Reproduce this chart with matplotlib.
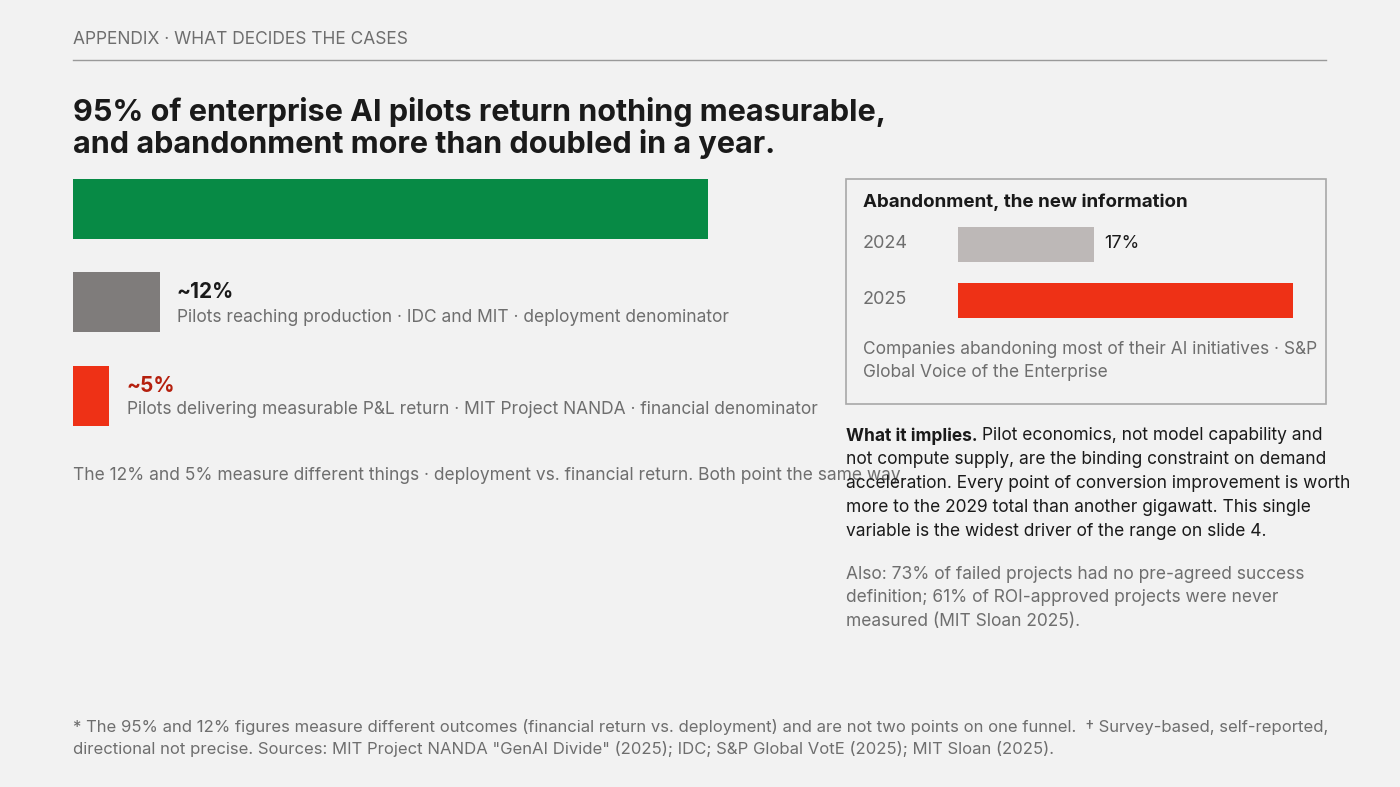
import matplotlib
matplotlib.use("Agg")
import matplotlib.pyplot as plt
from matplotlib.patches import Rectangle

BG = "#F2F2F2"
GREEN = "#078A45"
GREY = "#7F7C7B"
RED = "#EE3116"
LIGHT = "#BDB8B7"
INK = "#1A1A1A"
MUTED = "#6E6E6E"

# funnel data
funnel_values = [88, 12, 5]
funnel_labels = ["88%", "~12%", "~5%"]
funnel_notes = ["Organizations using AI in at least one function",
                "Pilots reaching production · IDC and MIT · deployment denominator",
                "Pilots delivering measurable P&L return · MIT Project NANDA · financial denominator"]
funnel_colors = [GREEN, GREY, RED]

# abandonment data
years = ["2024", "2025"]
abandon = [17, 42]
abandon_colors = [LIGHT, RED]

W, H = 1400, 787
fig = plt.figure(figsize=(14, 7.87), dpi=100, facecolor=BG)
plt.rcParams["font.family"] = ["Inter", "DejaVu Sans"]

# full-page axes in pixel coords for text
ax = fig.add_axes([0, 0, 1, 1])
ax.set_xlim(0, W)
ax.set_ylim(H, 0)
ax.axis("off")

def px_axes(x0, y0, x1, y1):
    return fig.add_axes([x0 / W, 1 - y1 / H, (x1 - x0) / W, (y1 - y0) / H])

ax.text(73, 40, "APPENDIX · WHAT DECIDES THE CASES", fontsize=12.5, color=MUTED,
        va="center")
ax.plot([73, 1326], [60, 60], color="#9A9A9A", lw=1)
ax.text(73, 128, "95% of enterprise AI pilots return nothing measurable,\nand abandonment more than doubled in a year.",
        fontsize=22, fontweight="bold", color=INK, va="center", linespacing=1.05)

# left funnel bars: 100% spans 721.6 px
fax = px_axes(73, 170, 73 + 721.6, 430)
fax.set_xlim(0, 100)
fax.set_ylim(430, 170)
fax.axis("off")
ys = [209, 302, 396]
fax.barh(ys, funnel_values, height=60, color=funnel_colors, left=0)

ax.text(90, 209, funnel_labels[0], fontsize=15, fontweight="bold", color="white", va="center")
ax.text(167, 210, funnel_notes[0], fontsize=12.5, color="white", va="center")
ax.text(177, 292, funnel_labels[1], fontsize=15, fontweight="bold", color=INK, va="center")
ax.text(177, 317, funnel_notes[1], fontsize=12.5, color=MUTED, va="center")
ax.text(127, 386, funnel_labels[2], fontsize=15, fontweight="bold", color="#B5200E", va="center")
ax.text(127, 410, funnel_notes[2], fontsize=12.5, color=MUTED, va="center")
ax.text(73, 475, "The 12% and 5% measure different things · deployment vs. financial return. Both point the same way.",
        fontsize=12.5, color=MUTED, va="center")

# right panel
ax.add_patch(Rectangle((846, 179), 480, 225, fill=False, ec="#A8A8A8", lw=1.2))
ax.text(863, 202, "Abandonment, the new information", fontsize=13.5, fontweight="bold",
        color=INK, va="center")
rax = px_axes(958, 220, 958 + 797.6, 325)
rax.set_xlim(0, 100)
rax.set_ylim(325, 220)
rax.axis("off")
rys = [244, 300]
rax.barh(rys, abandon, height=35, color=abandon_colors)
for yr, y in zip(years, rys):
    ax.text(863, y, yr, fontsize=13, color=MUTED, va="center")
ax.text(958 + abandon[0] * 7.976 + 11, 244, f"{abandon[0]}%", fontsize=13, color=INK, va="center")
ax.text(958 + abandon[1] * 7.976 - 10, 300, f"{abandon[1]}%", fontsize=13, fontweight="bold",
        color="white", va="center", ha="right")
ax.text(863, 361, "Companies abandoning most of their AI initiatives · S&P\nGlobal Voice of the Enterprise",
        fontsize=12.5, color=MUTED, va="center", linespacing=1.45)

implies = ("Pilot economics, not model capability and\nnot compute supply, are the binding constraint on demand\n"
           "acceleration. Every point of conversion improvement is worth\nmore to the 2029 total than another gigawatt. This single\n"
           "variable is the widest driver of the range on slide 4.")
lines = implies.split("\n")
ax.text(846, 436, "What it implies.", fontsize=12.5, fontweight="bold", color=INK, va="center")
ax.text(982, 436, lines[0], fontsize=12.5, color=INK, va="center")
for i, ln in enumerate(lines[1:]):
    ax.text(846, 460 + 24 * i, ln, fontsize=12.5, color=INK, va="center")

ax.text(846, 598, "Also: 73% of failed projects had no pre-agreed success\ndefinition; 61% of ROI-approved projects were never\nmeasured (MIT Sloan 2025).",
        fontsize=12.5, color=MUTED, va="center", linespacing=1.5)

ax.text(73, 738, "* The 95% and 12% figures measure different outcomes (financial return vs. deployment) and are not two points on one funnel.  † Survey-based, self-reported,\n"
        "directional not precise. Sources: MIT Project NANDA \"GenAI Divide\" (2025); IDC; S&P Global VotE (2025); MIT Sloan (2025).",
        fontsize=12, color=MUTED, va="center", linespacing=1.4)

fig.savefig("out.png", dpi=100, facecolor=BG)
